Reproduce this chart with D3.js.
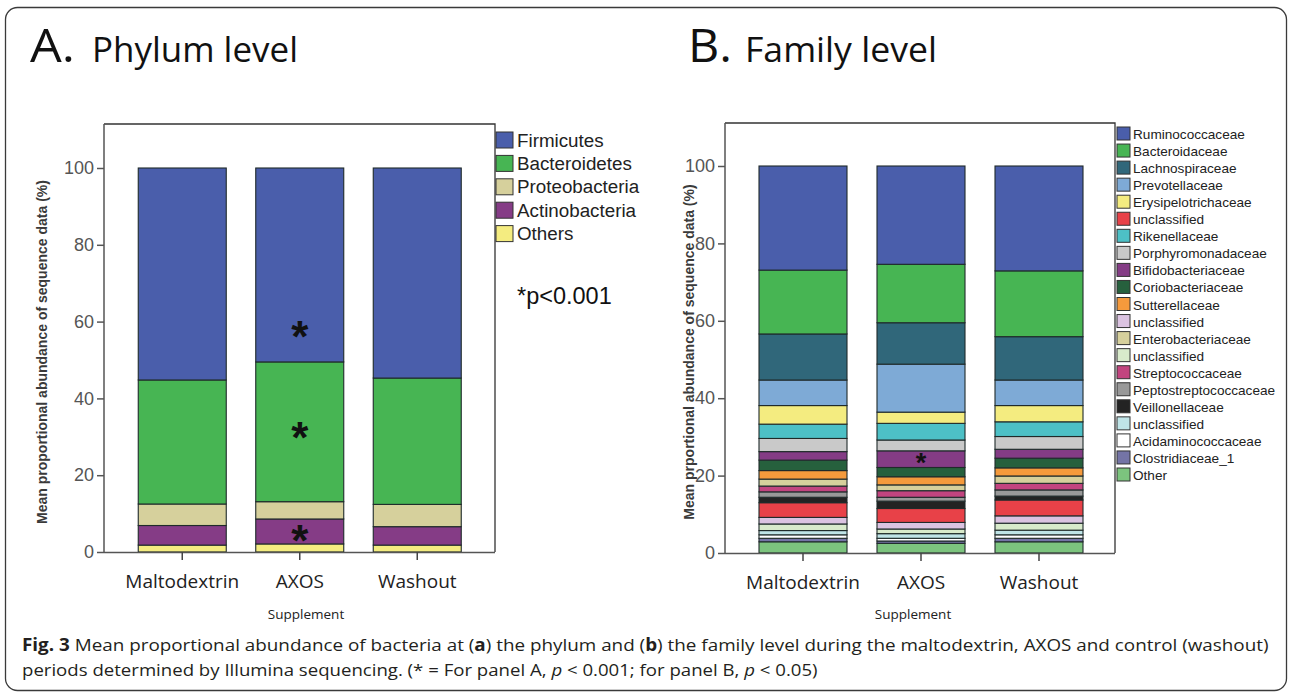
<!DOCTYPE html>
<html>
<head>
<meta charset="utf-8">
<script src="https://cdn.jsdelivr.net/npm/d3@7"></script>
<style>
  html, body { margin: 0; padding: 0; background: #fff; }
  svg { display: block; }
</style>
</head>
<body>
<svg id="fig" width="1292" height="693"></svg>
<script>
// ---- Phylum level (panel A) ----
const supplements = ["Maltodextrin", "AXOS", "Washout"];
const phylumNames = ["Firmicutes", "Bacteroidetes", "Proteobacteria", "Actinobacteria", "Others"];
const firmicutes     = [55.2, 50.5, 54.7];
const bacteroidetes  = [32.3, 36.4, 32.9];
const proteobacteria = [5.6, 4.5, 5.8];
const actinobacteria = [5.1, 6.5, 4.8];
const othersPhylum   = [1.8, 2.1, 1.8];
const phylumColors = ["#4a5eab", "#47b553", "#d6d09c", "#853c86", "#f4ec80"];

// ---- Family level (panel B) ----
const ruminococcaceae       = [26.9, 25.4, 27.1];
const bacteroidaceae        = [16.5, 15.1, 17.0];
const lachnospiraceae       = [11.9, 10.7, 11.2];
const prevotellaceae        = [6.6, 12.4, 6.6];
const erysipelotrichaceae   = [4.8, 2.9, 4.2];
const unclassifiedRed       = [3.8, 3.6, 4.1];
const rikenellaceae         = [3.7, 4.3, 3.8];
const porphyromonadaceae    = [3.4, 2.8, 3.3];
const bifidobacteriaceae    = [2.2, 4.3, 2.3];
const coriobacteriaceae     = [2.7, 2.4, 2.5];
const sutterellaceae        = [2.2, 2.1, 2.1];
const unclassifiedPink      = [1.7, 1.7, 1.9];
const enterobacteriaceae    = [1.8, 1.5, 1.9];
const unclassifiedGreen     = [1.7, 1.2, 1.8];
const streptococcaceae      = [1.5, 1.7, 1.7];
const peptostreptococcaceae = [1.4, 1.0, 1.6];
const veillonellaceae       = [1.4, 1.9, 1.0];
const unclassifiedCyan      = [1.1, 1.2, 1.2];
const acidaminococcaceae    = [0.9, 0.7, 0.9];
const clostridiaceae1       = [0.9, 0.6, 0.9];
const otherFamily           = [2.9, 2.5, 2.9];

// legend order (top to bottom)
const familyLegend = [
  ["ruminococcaceae", "Ruminococcaceae", "#4a5eab", ruminococcaceae],
  ["bacteroidaceae", "Bacteroidaceae", "#47b553", bacteroidaceae],
  ["lachnospiraceae", "Lachnospiraceae", "#30677a", lachnospiraceae],
  ["prevotellaceae", "Prevotellaceae", "#7eaad6", prevotellaceae],
  ["erysipelotrichaceae", "Erysipelotrichaceae", "#f4ec80", erysipelotrichaceae],
  ["unclassifiedRed", "unclassified", "#e84148", unclassifiedRed],
  ["rikenellaceae", "Rikenellaceae", "#4dc0c6", rikenellaceae],
  ["porphyromonadaceae", "Porphyromonadaceae", "#c9c9c9", porphyromonadaceae],
  ["bifidobacteriaceae", "Bifidobacteriaceae", "#843c85", bifidobacteriaceae],
  ["coriobacteriaceae", "Coriobacteriaceae", "#26603d", coriobacteriaceae],
  ["sutterellaceae", "Sutterellaceae", "#f59a3c", sutterellaceae],
  ["unclassifiedPink", "unclassified", "#dbc3e1", unclassifiedPink],
  ["enterobacteriaceae", "Enterobacteriaceae", "#d6d09c", enterobacteriaceae],
  ["unclassifiedGreen", "unclassified", "#d8eacb", unclassifiedGreen],
  ["streptococcaceae", "Streptococcaceae", "#c2447f", streptococcaceae],
  ["peptostreptococcaceae", "Peptostreptococcaceae", "#999999", peptostreptococcaceae],
  ["veillonellaceae", "Veillonellaceae", "#232323", veillonellaceae],
  ["unclassifiedCyan", "unclassified", "#bfe4e7", unclassifiedCyan],
  ["acidaminococcaceae", "Acidaminococcaceae", "#ffffff", acidaminococcaceae],
  ["clostridiaceae1", "Clostridiaceae_1", "#7474a6", clostridiaceae1],
  ["otherFamily", "Other", "#7cc47e", otherFamily]
];
// stacking order (bottom to top)
const familyStackOrder = [
  "otherFamily", "clostridiaceae1", "acidaminococcaceae", "unclassifiedCyan",
  "unclassifiedGreen", "unclassifiedPink", "unclassifiedRed", "veillonellaceae",
  "peptostreptococcaceae", "streptococcaceae", "enterobacteriaceae", "sutterellaceae",
  "coriobacteriaceae", "bifidobacteriaceae", "porphyromonadaceae", "rikenellaceae",
  "erysipelotrichaceae", "prevotellaceae", "lachnospiraceae", "bacteroidaceae",
  "ruminococcaceae"
];
const yTicks = [0, 20, 40, 60, 80, 100];

const svg = d3.select("#fig");

// rounded figure frame
svg.append("rect")
  .attr("x", 5.5).attr("y", 7.5).attr("width", 1281).attr("height", 683)
  .attr("rx", 12).attr("fill", "none").attr("stroke", "#3a3a3a").attr("stroke-width", 1.3);

// squeeze a text node horizontally to a given width
function fitText(g, width) {
  const w = g.node().getBBox().width;
  const t = g.attr("data-t");
  g.attr("transform", t + ` scale(${width / w},1)`);
}
function placeText(parent, x, y, str, opts, width) {
  const g = parent.append("g").attr("data-t", `translate(${x},${y})`).attr("transform", `translate(${x},${y})`);
  const t = g.append("text").text(str);
  Object.entries(opts).forEach(([k, v]) => t.attr(k, v));
  if (width) fitText(g, width);
  return g;
}

// panel titles
const titleFont = "'Open Sans', 'Noto Sans', sans-serif";
placeText(svg, 30, 62, "A.", { "font-family": titleFont, "font-size": 46, fill: "#111" }, 45);
placeText(svg, 92, 62, "Phylum level", { "font-family": titleFont, "font-size": 34, fill: "#111" }, 206);
placeText(svg, 688, 62, "B.", { "font-family": titleFont, "font-size": 46, fill: "#111" }, 44);
placeText(svg, 745, 62, "Family level", { "font-family": titleFont, "font-size": 34, fill: "#111" }, 192);

function drawPanel(cfg) {
  const g = svg.append("g");
  const y = d3.scaleLinear().domain([0, 100]).range([cfg.y0, cfg.y100]);
  const x = d3.scaleBand().domain(supplements).range(cfg.xRange).padding(0);
  const barW = cfg.barW;

  // stacked bars
  const rows = supplements.map((s, i) => {
    const r = { supplement: s };
    cfg.series.forEach(d => { r[d.key] = d.values[i]; });
    return r;
  });
  const stacked = d3.stack().keys(cfg.order)(rows);
  const colorOf = Object.fromEntries(cfg.series.map(d => [d.key, d.color]));
  g.selectAll("g.layer").data(stacked).join("g")
    .attr("fill", d => colorOf[d.key])
    .selectAll("rect").data(d => d).join("rect")
      .attr("x", d => x(d.data.supplement) + x.bandwidth() / 2 - barW / 2)
      .attr("width", barW)
      .attr("y", d => y(d[1]))
      .attr("height", d => y(d[0]) - y(d[1]))
      .attr("stroke", "#1f2a2a").attr("stroke-width", 1.1);

  // frame lines
  g.append("path")
    .attr("d", `M${cfg.xAxisLeft},${cfg.top}H${cfg.right}V${cfg.y0}`)
    .attr("fill", "none").attr("stroke", "#333").attr("stroke-width", 1.3);
  g.append("line")
    .attr("x1", cfg.xAxisLeft).attr("x2", cfg.xAxisLeft).attr("y1", cfg.top).attr("y2", cfg.y0)
    .attr("stroke", "#555").attr("stroke-width", 1.5);

  // y axis
  const yAxis = g.append("g").attr("transform", `translate(${cfg.xAxisLeft},0)`)
    .call(d3.axisLeft(y).tickValues(yTicks).tickSize(7).tickPadding(3));
  yAxis.select(".domain").remove();
  yAxis.selectAll("line").attr("stroke", "#555").attr("stroke-width", 1.5);
  yAxis.selectAll("text").attr("font-family", "'Liberation Sans', Arial, sans-serif")
    .attr("font-size", 18).attr("fill", "#555");

  // x axis
  const xAxis = g.append("g").attr("transform", `translate(0,${cfg.y0})`)
    .call(d3.axisBottom(x).tickSize(8).tickPadding(10));
  xAxis.select(".domain").attr("d", `M${cfg.xAxisLeft},0.5H${cfg.right}`).attr("stroke", "#555").attr("stroke-width", 1.5);
  xAxis.selectAll("line").attr("stroke", "#444").attr("stroke-width", 1.5);
  xAxis.selectAll("text").attr("font-family", "'Open Sans', 'Noto Sans', sans-serif")
    .attr("font-size", 19).attr("fill", "#222").attr("dy", "0.95em");

  // axis titles
  g.append("text")
    .attr("transform", `translate(${cfg.yTitleX},${(cfg.y0 + cfg.top) / 2 + 14}) rotate(-90)`)
    .attr("text-anchor", "middle")
    .attr("font-family", "'Liberation Sans', Arial, sans-serif")
    .attr("font-size", 14).attr("font-weight", "bold").attr("fill", "#3a3a3a")
    .text(cfg.yTitle);
  placeText(g, cfg.xTitleX, 619, "Supplement",
    { "font-family": "'Open Sans', sans-serif", "font-size": 13.5, fill: "#222", "text-anchor": "middle" });

  return { g, x, y };
}

// ---- Panel A ----
const phylumSeries = [
  { key: "Firmicutes", values: firmicutes, color: phylumColors[0] },
  { key: "Bacteroidetes", values: bacteroidetes, color: phylumColors[1] },
  { key: "Proteobacteria", values: proteobacteria, color: phylumColors[2] },
  { key: "Actinobacteria", values: actinobacteria, color: phylumColors[3] },
  { key: "Others", values: othersPhylum, color: phylumColors[4] }
];
const pA = drawPanel({
  series: phylumSeries,
  order: ["Others", "Actinobacteria", "Proteobacteria", "Bacteroidetes", "Firmicutes"],
  y0: 552, y100: 168, top: 124, right: 495, xAxisLeft: 104,
  xRange: [123.5, 476], barW: 88,
  yTitle: "Mean proportional abundance of sequence data (%)", yTitleX: 47, xTitleX: 306
});

// significance marks on AXOS
const axosA = pA.x("AXOS") + pA.x.bandwidth() / 2;
const cum = (arrs, i) => arrs.reduce((s, a) => s + a[i], 0);
[
  [cum([othersPhylum, actinobacteria, proteobacteria, bacteroidetes], 1) + firmicutes[1] * 0.16],
  [cum([othersPhylum, actinobacteria, proteobacteria], 1) + bacteroidetes[1] * 0.5],
  [cum([othersPhylum], 1) + actinobacteria[1] * 0.35]
].forEach(([v]) => {
  pA.g.append("text").attr("x", axosA).attr("y", pA.y(v) + 21)
    .attr("text-anchor", "middle").attr("font-family", "'Liberation Sans', Arial, sans-serif")
    .attr("font-weight", "bold").attr("font-size", 44).attr("fill", "#111").text("*");
});

// legend A
const legA = svg.append("g").attr("transform", "translate(496,132)");
phylumNames.forEach((n, i) => {
  const row = legA.append("g").attr("transform", `translate(0,${i * 23.4})`);
  row.append("rect").attr("width", 17).attr("height", 16).attr("fill", phylumColors[i])
    .attr("stroke", "#333").attr("stroke-width", 1);
  row.append("text").attr("x", 21).attr("y", 14.5)
    .attr("font-family", "'Liberation Sans', Arial, sans-serif").attr("font-size", 18.8)
    .attr("fill", "#222").text(n);
});
svg.append("text").attr("x", 517).attr("y", 304)
  .attr("font-family", "'Liberation Sans', Arial, sans-serif").attr("font-size", 23.5)
  .attr("fill", "#111").text("*p<0.001");

// ---- Panel B ----
const familySeries = familyLegend.map(([key, label, color, values]) => ({ key, label, color, values }));
const pB = drawPanel({
  series: familySeries,
  order: familyStackOrder,
  y0: 553, y100: 166, top: 123, right: 1115, xAxisLeft: 725,
  xRange: [744, 1098], barW: 88,
  yTitle: "Mean prportional abundance of sequence data (%)", yTitleX: 694, xTitleX: 913
});

// significance mark on Bifidobacteriaceae (AXOS)
const axosB = pB.x("AXOS") + pB.x.bandwidth() / 2;
const bifBase = cum([otherFamily, clostridiaceae1, acidaminococcaceae, unclassifiedCyan, unclassifiedGreen,
  unclassifiedPink, unclassifiedRed, veillonellaceae, peptostreptococcaceae, streptococcaceae,
  enterobacteriaceae, sutterellaceae, coriobacteriaceae], 1);
pB.g.append("text").attr("x", axosB).attr("y", pB.y(bifBase + bifidobacteriaceae[1] / 2) + 13)
  .attr("text-anchor", "middle").attr("font-family", "'Liberation Sans', Arial, sans-serif")
  .attr("font-weight", "bold").attr("font-size", 27).attr("fill", "#111").text("*");

// legend B
const legB = svg.append("g").attr("transform", "translate(1117,127)");
familyLegend.forEach(([key, label, color], i) => {
  const row = legB.append("g").attr("transform", `translate(0,${i * 17.05})`);
  row.append("rect").attr("width", 13).attr("height", 13).attr("fill", color)
    .attr("stroke", "#333").attr("stroke-width", 1);
  row.append("text").attr("x", 16).attr("y", 12)
    .attr("font-family", "'Liberation Sans', Arial, sans-serif").attr("font-size", 13.6)
    .attr("fill", "#222").text(label);
});

// ---- caption ----
const capFont = "'Open Sans', 'Noto Sans', sans-serif";
function caption(y, parts, width) {
  const g = svg.append("g").attr("data-t", `translate(22,${y})`).attr("transform", `translate(22,${y})`);
  const t = g.append("text").attr("font-family", capFont).attr("font-size", 17).attr("fill", "#231f20");
  parts.forEach(([s, style]) => {
    const ts = t.append("tspan").text(s);
    if (style === "b") ts.attr("font-weight", "bold");
    if (style === "i") ts.attr("font-style", "italic");
  });
  fitText(g, width);
}
caption(651, [
  ["Fig. 3", "b"], [" Mean proportional abundance of bacteria at ("], ["a", "b"],
  [") the phylum and ("], ["b", "b"],
  [") the family level during the maltodextrin, AXOS and control (washout)"]
], 1248);
caption(676, [
  ["periods determined by Illumina sequencing. (* = For panel A, "], ["p", "i"], [" < 0.001; for panel B, "],
  ["p", "i"], [" < 0.05)"]
], 796);
</script>
</body>
</html>
